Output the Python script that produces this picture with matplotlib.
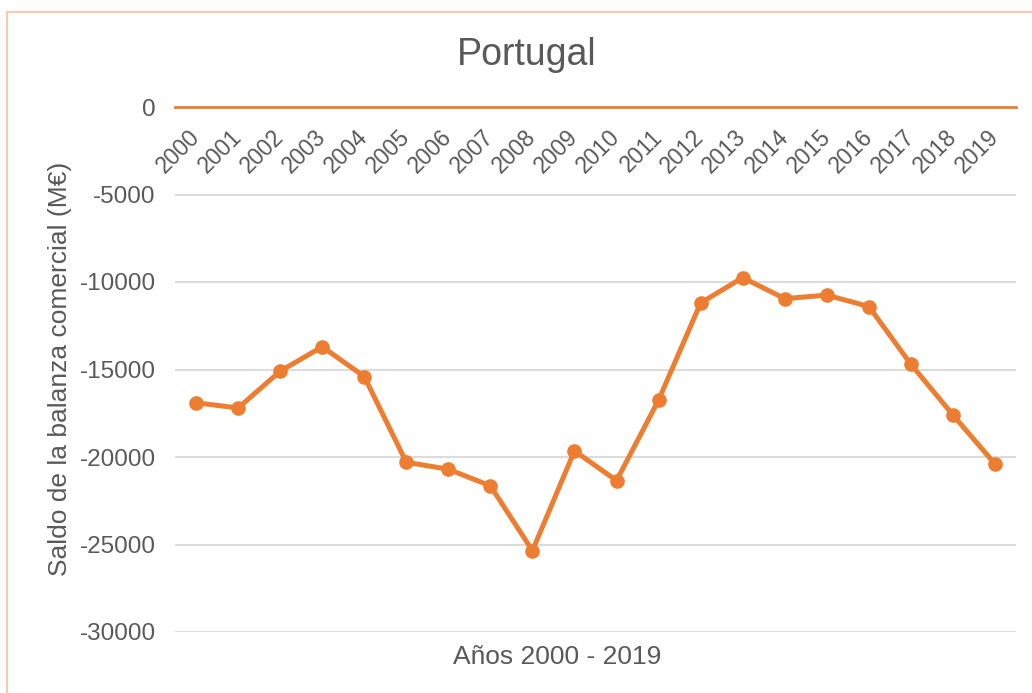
import numpy as np
import matplotlib
matplotlib.use("Agg")
import matplotlib.pyplot as plt
from matplotlib.patches import Rectangle

# data
years = [str(y) for y in range(2000, 2020)]
saldo = [-16900, -17200, -15100, -13700, -15400, -20300, -20700, -21650, -25350, -19650,
         -21350, -16750, -11200, -9750, -10950, -10750, -11400, -14700, -17600, -20400]
yticks = [0, -5000, -10000, -15000, -20000, -25000, -30000]

orange = "#ED7D31"
txt = "#595959"
grid = "#D9D9D9"

plt.rcParams['font.family'] = ['Liberation Sans', 'DejaVu Sans']

fig = plt.figure(figsize=(10.32, 6.93), dpi=100)
ax = fig.add_axes([175 / 1032, 1 - 632 / 693, (1016 - 175) / 1032, (632 - 107) / 693])

x = np.arange(len(years))
ax.plot(x, saldo, color=orange, linewidth=3.6, marker='o', markersize=9.5,
        solid_capstyle='round', solid_joinstyle='round', zorder=3)

ax.set_xlim(-0.5, len(years) - 0.5)
ax.set_ylim(-30000, 0)
ax.set_yticks(yticks)
ax.set_yticklabels([str(v) for v in yticks])
ax.yaxis.grid(True, color=grid, linewidth=1.3)
ax.set_axisbelow(True)

for s in ['top', 'right', 'left']:
    ax.spines[s].set_visible(False)
ax.spines['bottom'].set_position(('data', 0))
ax.spines['bottom'].set_color(orange)
ax.spines['bottom'].set_linewidth(2)
ax.spines['bottom'].set_zorder(4)

ax.set_xticks(x)
ax.set_xticklabels(years, rotation=45, ha='right', va='center',
                   rotation_mode='anchor', fontsize=16.5, color=txt)
ax.tick_params(axis='x', length=0, pad=19)
ax.tick_params(axis='y', length=0, labelsize=17.5, labelcolor=txt, pad=14)

fig.text(527 / 1032, 1 - 55 / 693, "Portugal", ha='center', va='center',
         fontsize=27, color=txt)
fig.text(557 / 1032, 1 - 657 / 693, "Años 2000 - 2019", ha='center', va='center',
         fontsize=19, color=txt)
fig.text(60 / 1032, 1 - 369 / 693, "Saldo de la balanza comercial (M€)", ha='center',
         va='center', rotation=90, fontsize=19, color=txt)

# light orange frame round the chart
fig.patches.append(Rectangle((7 / 1032, -0.1), 1.2, 1.1 - 12 / 693,
                             transform=fig.transFigure, fill=False,
                             edgecolor="#F8CBAD", linewidth=1.5))

fig.savefig("out.png", dpi=100)
